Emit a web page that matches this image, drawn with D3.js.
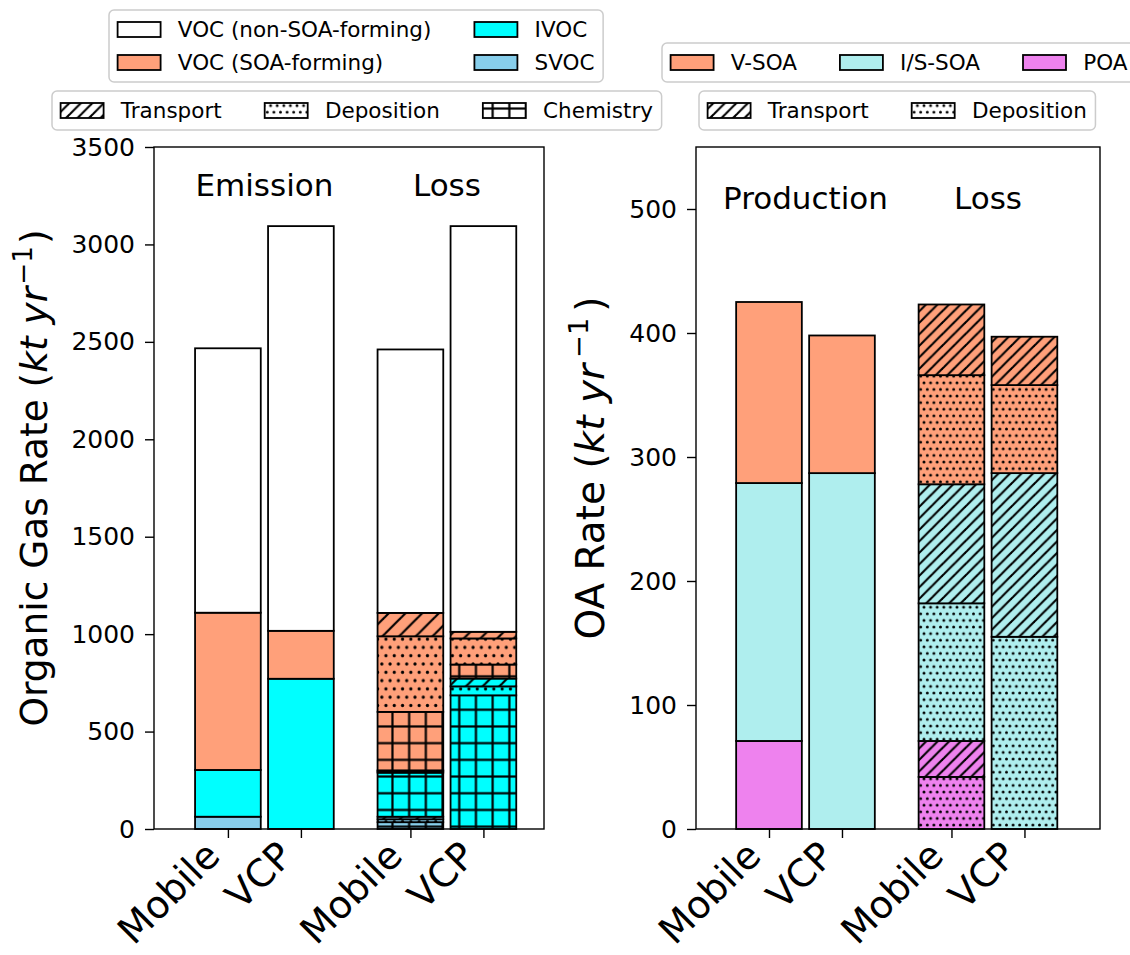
<!DOCTYPE html>
<html>
<head>
<meta charset="utf-8">
<script src="https://cdn.jsdelivr.net/npm/d3@7"></script>
<style>
  body { margin: 0; background: #fff; }
  text { font-family: "DejaVu Sans", sans-serif; fill: #000; }
</style>
</head>
<body>
<svg id="chart" width="1130" height="955"></svg>
<script>
// ---- data (kt/yr) ----
var sources = ["Mobile", "VCP"];
var gasTicks = [0, 500, 1000, 1500, 2000, 2500, 3000, 3500];
var oaTicks = [0, 100, 200, 300, 400, 500];

// gas-phase emissions
var emisSVOC = [63, 0];
var emisIVOC = [240, 771];
var emisVOCsoa = [807, 246];
var emisVOCnon = [1357, 2077];

// gas-phase losses, by process
var lossSVOCchem = [35, 0], lossSVOCdep = [15, 0], lossSVOCtrans = [13, 0];
var lossIVOCchem = [226, 686], lossIVOCdep = [7, 46], lossIVOCtrans = [5, 40];
var lossVOCchem = [300, 72], lossVOCdep = [388, 134], lossVOCtrans = [120, 34];
var lossVOCnon = [1352, 2082];

// organic aerosol production
var prodPOA = [71, 0];
var prodISSOA = [208, 287];
var prodVSOA = [146, 111];

// organic aerosol losses
var oaPOAdep = [42, 0], oaPOAtrans = [29, 0];
var oaISdep = [111, 155], oaIStrans = [96, 132];
var oaVdep = [88, 71], oaVtrans = [57, 39];

var colors = {
  non: "#ffffff", soa: "#ffa07a", ivoc: "#00ffff", svoc: "#87ceeb",
  vsoa: "#ffa07a", issoa: "#afeeee", poa: "#ee82ee"
};

var svg = d3.select("#chart");
var defs = svg.append("defs");

// hatch patterns, user-space aligned like matplotlib
var patId = 0;
function hatch(kind, fill, step, lw) {
  var id = "p" + (patId++);
  var w = step, h = (kind === "dots") ? step * 2 : step;
  var p = defs.append("pattern").attr("id", id)
    .attr("patternUnits", "userSpaceOnUse")
    .attr("width", w).attr("height", h);
  p.append("rect").attr("width", w).attr("height", h).attr("fill", fill);
  if (kind === "trans") {
    [[-w, w * 2, w * 2, -w], [-w, w, w, -w], [0, w * 2, w * 2, 0]].forEach(function(l) {
      p.append("line").attr("x1", l[0]).attr("y1", l[1]).attr("x2", l[2]).attr("y2", l[3])
        .attr("stroke", "#000").attr("stroke-width", lw);
    });
  } else if (kind === "dots") {
    [[0, 0], [w, 0], [0, h], [w, h], [w / 2, step]].forEach(function(c) {
      p.append("circle").attr("cx", c[0]).attr("cy", c[1]).attr("r", lw).attr("fill", "#000");
    });
  } else if (kind === "chem") {
    p.append("line").attr("x1", 0).attr("y1", h / 2).attr("x2", w).attr("y2", h / 2)
      .attr("stroke", "#000").attr("stroke-width", lw);
    p.append("line").attr("x1", w / 2).attr("y1", 0).attr("x2", w / 2).attr("y2", h)
      .attr("stroke", "#000").attr("stroke-width", lw);
  }
  return "url(#" + id + ")";
}

var leftFill = {}, rightFill = {};
["soa", "ivoc", "svoc", "non"].forEach(function(k) {
  leftFill[k] = {
    trans: hatch("trans", colors[k], 16.7, 2.2),
    dots: hatch("dots", colors[k], 8.3, 1.6),
    chem: hatch("chem", colors[k], 16.7, 2.2)
  };
});
["vsoa", "issoa", "poa", "non"].forEach(function(k) {
  rightFill[k] = {
    trans: hatch("trans", colors[k], 11.5, 2.1),
    dots: hatch("dots", colors[k], 6.6, 1.45)
  };
});

var plotTop = 147, plotBottom = 829;
var positions = [0, 0.4, 1, 1.4];
var barW = 0.36;

function panel(opt) {
  var x = d3.scaleLinear().domain(opt.xdom).range([opt.x0, opt.x1]);
  var y = d3.scaleLinear().domain([0, opt.ymax]).range([plotBottom, plotTop]);
  var g = svg.append("g");

  opt.bars.forEach(function(segs, bi) {
    var base = 0;
    var xc = positions[bi];
    segs.forEach(function(s) {
      if (s.v <= 0) return;
      g.append("rect")
        .attr("x", x(xc - barW / 2))
        .attr("width", x(xc + barW / 2) - x(xc - barW / 2))
        .attr("y", y(base + s.v))
        .attr("height", y(base) - y(base + s.v))
        .attr("fill", s.f)
        .attr("stroke", "#000").attr("stroke-width", 1.8);
      base += s.v;
    });
  });

  // frame
  g.append("rect").attr("x", opt.x0).attr("y", plotTop)
    .attr("width", opt.x1 - opt.x0).attr("height", plotBottom - plotTop)
    .attr("fill", "none").attr("stroke", "#000").attr("stroke-width", 1.4);

  var ya = g.append("g").attr("transform", "translate(" + opt.x0 + ",0)")
    .call(d3.axisLeft(y).tickValues(opt.ticks).tickSize(9).tickPadding(10).tickFormat(d3.format("d")));
  ya.select(".domain").remove();
  ya.selectAll("line").attr("stroke-width", 1.4);
  ya.selectAll("text").attr("font-size", 25).attr("font-family", "DejaVu Sans");

  var xa = g.append("g").attr("transform", "translate(0," + plotBottom + ")")
    .call(d3.axisBottom(x).tickValues(positions).tickSize(9).tickFormat(""));
  xa.select(".domain").remove();
  xa.selectAll("line").attr("stroke-width", 1.4);

  positions.forEach(function(p, i) {
    g.append("text")
      .attr("transform", "translate(" + (x(p) - 6) + "," + (plotBottom + 29) + ") rotate(-45)")
      .attr("text-anchor", "end")
      .attr("font-size", 38)
      .text(sources[i % 2]);
  });

  opt.notes.forEach(function(n) {
    g.append("text").attr("x", x(n[0])).attr("y", y(n[1]))
      .attr("text-anchor", "middle").attr("font-size", 31).text(n[2]);
  });

  var lab = g.append("text")
    .attr("transform", "translate(" + opt.labelX + "," + opt.labelY + ") rotate(-90)")
    .attr("text-anchor", "middle").attr("font-size", opt.labelSize);
  lab.append("tspan").text(opt.label + " (");
  lab.append("tspan").attr("font-style", "italic").text("kt");
  lab.append("tspan").text(" ");
  lab.append("tspan").attr("font-style", "italic").text("yr");
  lab.append("tspan").attr("font-size", opt.labelSize * 0.7).attr("dx", opt.gap)
    .attr("dy", -opt.labelSize * 0.4).text("\u22121");
  lab.append("tspan").attr("dx", opt.gap).attr("dy", opt.labelSize * 0.4).text(")");
}

function drawLegend(x0, y0, items, ncol) {
  var fs = 21.5, em = fs;
  var g = svg.append("g");
  var nrow = Math.ceil(items.length / ncol);
  var box = g.append("rect");
  var texts = items.map(function(it) {
    return g.append("text").attr("font-size", fs).attr("dy", "0.35em").text(it.label);
  });
  var colW = [];
  items.forEach(function(it, i) {
    var c = Math.floor(i / nrow);
    colW[c] = Math.max(colW[c] || 0, texts[i].node().getComputedTextLength());
  });
  var cx = x0 + 0.4 * em, colX = [];
  colW.forEach(function(w, c) { colX[c] = cx; cx += 2 * em + 0.8 * em + w + 2 * em; });
  items.forEach(function(it, i) {
    var c = Math.floor(i / nrow), r = i % nrow;
    var cy = y0 + 3 + 33 * (r + 0.5);
    g.append("rect").attr("x", colX[c]).attr("y", cy - 7.5)
      .attr("width", 2 * em).attr("height", 15)
      .attr("fill", it.fill).attr("stroke", "#000").attr("stroke-width", 1.8);
    texts[i].attr("x", colX[c] + 2.8 * em).attr("y", cy);
  });
  var w = cx - 2 * em + 0.4 * em - x0;
  box.attr("x", x0).attr("y", y0).attr("width", w).attr("height", 6 + 33 * nrow)
    .attr("rx", 5).attr("fill", "#fff").attr("fill-opacity", 0.8)
    .attr("stroke", "#cccccc").attr("stroke-width", 1.5);
}

function seg(v, f) { return { v: v, f: f }; }

// left panel bars: Mobile emis, VCP emis, Mobile loss, VCP loss
var gasBars = [0, 1].map(function(i) {
  return [seg(emisSVOC[i], colors.svoc), seg(emisIVOC[i], colors.ivoc),
          seg(emisVOCsoa[i], colors.soa), seg(emisVOCnon[i], colors.non)];
}).concat([0, 1].map(function(i) {
  return [seg(lossSVOCchem[i], leftFill.svoc.chem), seg(lossSVOCdep[i], leftFill.svoc.dots),
          seg(lossSVOCtrans[i], leftFill.svoc.trans),
          seg(lossIVOCchem[i], leftFill.ivoc.chem), seg(lossIVOCdep[i], leftFill.ivoc.dots),
          seg(lossIVOCtrans[i], leftFill.ivoc.trans),
          seg(lossVOCchem[i], leftFill.soa.chem), seg(lossVOCdep[i], leftFill.soa.dots),
          seg(lossVOCtrans[i], leftFill.soa.trans),
          seg(lossVOCnon[i], colors.non)];
}));

var oaBars = [0, 1].map(function(i) {
  return [seg(prodPOA[i], colors.poa), seg(prodISSOA[i], colors.issoa), seg(prodVSOA[i], colors.vsoa)];
}).concat([0, 1].map(function(i) {
  return [seg(oaPOAdep[i], rightFill.poa.dots), seg(oaPOAtrans[i], rightFill.poa.trans),
          seg(oaISdep[i], rightFill.issoa.dots), seg(oaIStrans[i], rightFill.issoa.trans),
          seg(oaVdep[i], rightFill.vsoa.dots), seg(oaVtrans[i], rightFill.vsoa.trans)];
}));

panel({
  x0: 154, x1: 544, xdom: [-0.405, 1.732], ymax: 3500, ticks: gasTicks,
  bars: gasBars, label: "Organic Gas Rate", labelX: 47, labelY: 478, labelSize: 37.5, gap: 2,
  notes: [[0.2, 3250, "Emission"], [1.2, 3250, "Loss"]]
});
panel({
  x0: 696, x1: 1100, xdom: [-0.4, 1.814], ymax: 550, ticks: oaTicks,
  bars: oaBars, label: "OA Rate", labelX: 604, labelY: 468, labelSize: 39, gap: 6,
  notes: [[0.2, 500, "Production"], [1.2, 500, "Loss"]]
});

drawLegend(109, 10, [
  { label: "VOC (non-SOA-forming)", fill: colors.non },
  { label: "VOC (SOA-forming)", fill: colors.soa },
  { label: "IVOC", fill: colors.ivoc },
  { label: "SVOC", fill: colors.svoc }
], 2);
drawLegend(52, 91, [
  { label: "Transport", fill: rightFill.non.trans },
  { label: "Deposition", fill: rightFill.non.dots },
  { label: "Chemistry", fill: leftFill.non.chem }
], 3);
drawLegend(662, 43, [
  { label: "V-SOA", fill: colors.vsoa },
  { label: "I/S-SOA", fill: colors.issoa },
  { label: "POA", fill: colors.poa }
], 3);
drawLegend(699, 91, [
  { label: "Transport", fill: rightFill.non.trans },
  { label: "Deposition", fill: rightFill.non.dots }
], 2);
</script>
</body>
</html>
